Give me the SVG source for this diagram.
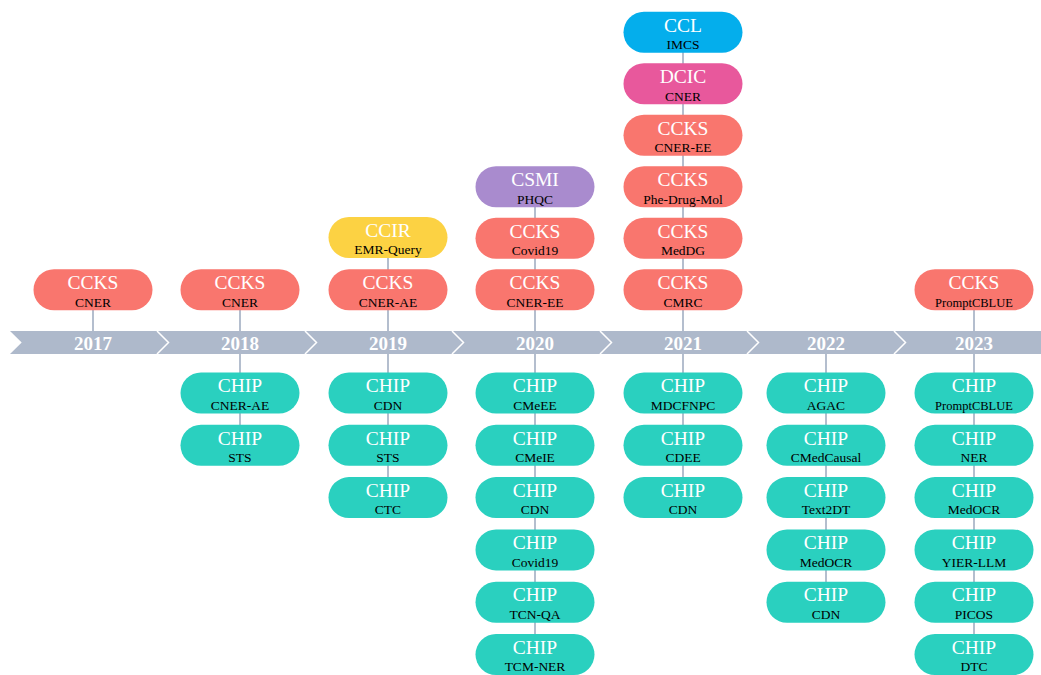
<svg xmlns="http://www.w3.org/2000/svg" width="1041" height="675" viewBox="0 0 1041 675">
<style>
.n rect{rx:20.5;ry:20.5}
.t{font-family:"Liberation Serif",serif;font-size:19.5px;fill:#fff;text-anchor:middle}
.s{font-family:"Liberation Serif",serif;font-size:13.5px;fill:#000;text-anchor:middle}
.y{font-family:"Liberation Serif",serif;font-size:19px;font-weight:bold;fill:#fff;text-anchor:middle}
.ccks{fill:#F9766E}.chip{fill:#2AD0BF}.ccl{fill:#04AEEC}.dcic{fill:#E8589C}.csmi{fill:#A98BCE}.ccir{fill:#FCD243}
.ln{stroke:#B4BECE;stroke-width:2;fill:none}
.sep{stroke:#fff;stroke-width:1.5;fill:none}
</style>
<rect width="1041" height="675" fill="#fff"/>
<g id="connectors">
<line class="ln" x1="93" y1="290" x2="93" y2="342"/>
<line class="ln" x1="240" y1="290" x2="240" y2="445"/>
<line class="ln" x1="388" y1="237" x2="388" y2="498"/>
<line class="ln" x1="535" y1="186" x2="535" y2="655"/>
<line class="ln" x1="683" y1="32" x2="683" y2="498"/>
<line class="ln" x1="826" y1="342" x2="826" y2="602"/>
<line class="ln" x1="974" y1="290" x2="974" y2="655"/>
</g>
<g id="timeline">
<polygon points="10,331 1041,331 1041,354 10,354 21.7,342.5" fill="#AEB9CB"/>
<polyline class="sep" points="157,331 168.5,342.5 157,354"/>
<polyline class="sep" points="305,331 316.5,342.5 305,354"/>
<polyline class="sep" points="452,331 463.5,342.5 452,354"/>
<polyline class="sep" points="600,331 611.5,342.5 600,354"/>
<polyline class="sep" points="747,331 758.5,342.5 747,354"/>
<polyline class="sep" points="894,331 905.5,342.5 894,354"/>
<text class="y" x="93" y="349.5">2017</text>
<text class="y" x="240" y="349.5">2018</text>
<text class="y" x="388" y="349.5">2019</text>
<text class="y" x="535" y="349.5">2020</text>
<text class="y" x="683" y="349.5">2021</text>
<text class="y" x="826" y="349.5">2022</text>
<text class="y" x="974" y="349.5">2023</text>
</g>
<!-- 2017 -->
<g id="n2017a1" class="n"><rect class="ccks" x="33.5" y="269.3" width="119" height="41"/><text class="t" x="93" y="289">CCKS</text><text class="s" x="93" y="306.5">CNER</text></g>
<!-- 2018 -->
<g id="n2018a1" class="n"><rect class="ccks" x="180.5" y="269.3" width="119" height="41"/><text class="t" x="240" y="289">CCKS</text><text class="s" x="240" y="306.5">CNER</text></g>
<g id="n2018b1" class="n"><rect class="chip" x="180.5" y="372.5" width="119" height="41"/><text class="t" x="240" y="392.2">CHIP</text><text class="s" x="240" y="409.7">CNER-AE</text></g>
<g id="n2018b2" class="n"><rect class="chip" x="180.5" y="424.8" width="119" height="41"/><text class="t" x="240" y="444.5">CHIP</text><text class="s" x="240" y="462">STS</text></g>
<!-- 2019 -->
<g id="n2019a1" class="n"><rect class="ccks" x="328.5" y="269.3" width="119" height="41"/><text class="t" x="388" y="289">CCKS</text><text class="s" x="388" y="306.5">CNER-AE</text></g>
<g id="n2019a2" class="n"><rect class="ccir" x="328.5" y="217" width="119" height="41"/><text class="t" x="388" y="236.7">CCIR</text><text class="s" x="388" y="254.2">EMR-Query</text></g>
<g id="n2019b1" class="n"><rect class="chip" x="328.5" y="372.5" width="119" height="41"/><text class="t" x="388" y="392.2">CHIP</text><text class="s" x="388" y="409.7">CDN</text></g>
<g id="n2019b2" class="n"><rect class="chip" x="328.5" y="424.8" width="119" height="41"/><text class="t" x="388" y="444.5">CHIP</text><text class="s" x="388" y="462">STS</text></g>
<g id="n2019b3" class="n"><rect class="chip" x="328.5" y="477.1" width="119" height="41"/><text class="t" x="388" y="496.8">CHIP</text><text class="s" x="388" y="514.3">CTC</text></g>
<!-- 2020 -->
<g id="n2020a1" class="n"><rect class="ccks" x="475.5" y="269.3" width="119" height="41"/><text class="t" x="535" y="289">CCKS</text><text class="s" x="535" y="306.5">CNER-EE</text></g>
<g id="n2020a2" class="n"><rect class="ccks" x="475.5" y="217.8" width="119" height="41"/><text class="t" x="535" y="237.5">CCKS</text><text class="s" x="535" y="255">Covid19</text></g>
<g id="n2020a3" class="n"><rect class="csmi" x="475.5" y="166.3" width="119" height="41"/><text class="t" x="535" y="186">CSMI</text><text class="s" x="535" y="203.5">PHQC</text></g>
<g id="n2020b1" class="n"><rect class="chip" x="475.5" y="372.5" width="119" height="41"/><text class="t" x="535" y="392.2">CHIP</text><text class="s" x="535" y="409.7">CMeEE</text></g>
<g id="n2020b2" class="n"><rect class="chip" x="475.5" y="424.8" width="119" height="41"/><text class="t" x="535" y="444.5">CHIP</text><text class="s" x="535" y="462">CMeIE</text></g>
<g id="n2020b3" class="n"><rect class="chip" x="475.5" y="477.1" width="119" height="41"/><text class="t" x="535" y="496.8">CHIP</text><text class="s" x="535" y="514.3">CDN</text></g>
<g id="n2020b4" class="n"><rect class="chip" x="475.5" y="529.4" width="119" height="41"/><text class="t" x="535" y="549.1">CHIP</text><text class="s" x="535" y="566.6">Covid19</text></g>
<g id="n2020b5" class="n"><rect class="chip" x="475.5" y="581.7" width="119" height="41"/><text class="t" x="535" y="601.4">CHIP</text><text class="s" x="535" y="618.9">TCN-QA</text></g>
<g id="n2020b6" class="n"><rect class="chip" x="475.5" y="634" width="119" height="41"/><text class="t" x="535" y="653.7">CHIP</text><text class="s" x="535" y="671.2">TCM-NER</text></g>
<!-- 2021 -->
<g id="n2021a1" class="n"><rect class="ccks" x="623.5" y="269.3" width="119" height="41"/><text class="t" x="683" y="289">CCKS</text><text class="s" x="683" y="306.5">CMRC</text></g>
<g id="n2021a2" class="n"><rect class="ccks" x="623.5" y="217.8" width="119" height="41"/><text class="t" x="683" y="237.5">CCKS</text><text class="s" x="683" y="255">MedDG</text></g>
<g id="n2021a3" class="n"><rect class="ccks" x="623.5" y="166.3" width="119" height="41"/><text class="t" x="683" y="186">CCKS</text><text class="s" x="683" y="203.5">Phe-Drug-Mol</text></g>
<g id="n2021a4" class="n"><rect class="ccks" x="623.5" y="114.8" width="119" height="41"/><text class="t" x="683" y="134.5">CCKS</text><text class="s" x="683" y="152">CNER-EE</text></g>
<g id="n2021a5" class="n"><rect class="dcic" x="623.5" y="63.3" width="119" height="41"/><text class="t" x="683" y="83">DCIC</text><text class="s" x="683" y="100.5">CNER</text></g>
<g id="n2021a6" class="n"><rect class="ccl" x="623.5" y="11.8" width="119" height="41"/><text class="t" x="683" y="31.5">CCL</text><text class="s" x="683" y="49">IMCS</text></g>
<g id="n2021b1" class="n"><rect class="chip" x="623.5" y="372.5" width="119" height="41"/><text class="t" x="683" y="392.2">CHIP</text><text class="s" x="683" y="409.7">MDCFNPC</text></g>
<g id="n2021b2" class="n"><rect class="chip" x="623.5" y="424.8" width="119" height="41"/><text class="t" x="683" y="444.5">CHIP</text><text class="s" x="683" y="462">CDEE</text></g>
<g id="n2021b3" class="n"><rect class="chip" x="623.5" y="477.1" width="119" height="41"/><text class="t" x="683" y="496.8">CHIP</text><text class="s" x="683" y="514.3">CDN</text></g>
<!-- 2022 -->
<g id="n2022b1" class="n"><rect class="chip" x="766.5" y="372.5" width="119" height="41"/><text class="t" x="826" y="392.2">CHIP</text><text class="s" x="826" y="409.7">AGAC</text></g>
<g id="n2022b2" class="n"><rect class="chip" x="766.5" y="424.8" width="119" height="41"/><text class="t" x="826" y="444.5">CHIP</text><text class="s" x="826" y="462">CMedCausal</text></g>
<g id="n2022b3" class="n"><rect class="chip" x="766.5" y="477.1" width="119" height="41"/><text class="t" x="826" y="496.8">CHIP</text><text class="s" x="826" y="514.3">Text2DT</text></g>
<g id="n2022b4" class="n"><rect class="chip" x="766.5" y="529.4" width="119" height="41"/><text class="t" x="826" y="549.1">CHIP</text><text class="s" x="826" y="566.6">MedOCR</text></g>
<g id="n2022b5" class="n"><rect class="chip" x="766.5" y="581.7" width="119" height="41"/><text class="t" x="826" y="601.4">CHIP</text><text class="s" x="826" y="618.9">CDN</text></g>
<!-- 2023 -->
<g id="n2023a1" class="n"><rect class="ccks" x="914.5" y="269.3" width="119" height="41"/><text class="t" x="974" y="289">CCKS</text><text class="s" x="974" y="306.5" style="font-size:12.5px">PromptCBLUE</text></g>
<g id="n2023b1" class="n"><rect class="chip" x="914.5" y="372.5" width="119" height="41"/><text class="t" x="974" y="392.2">CHIP</text><text class="s" x="974" y="409.7" style="font-size:12.5px">PromptCBLUE</text></g>
<g id="n2023b2" class="n"><rect class="chip" x="914.5" y="424.8" width="119" height="41"/><text class="t" x="974" y="444.5">CHIP</text><text class="s" x="974" y="462">NER</text></g>
<g id="n2023b3" class="n"><rect class="chip" x="914.5" y="477.1" width="119" height="41"/><text class="t" x="974" y="496.8">CHIP</text><text class="s" x="974" y="514.3">MedOCR</text></g>
<g id="n2023b4" class="n"><rect class="chip" x="914.5" y="529.4" width="119" height="41"/><text class="t" x="974" y="549.1">CHIP</text><text class="s" x="974" y="566.6">YIER-LLM</text></g>
<g id="n2023b5" class="n"><rect class="chip" x="914.5" y="581.7" width="119" height="41"/><text class="t" x="974" y="601.4">CHIP</text><text class="s" x="974" y="618.9">PICOS</text></g>
<g id="n2023b6" class="n"><rect class="chip" x="914.5" y="634" width="119" height="41"/><text class="t" x="974" y="653.7">CHIP</text><text class="s" x="974" y="671.2">DTC</text></g>
</svg>
